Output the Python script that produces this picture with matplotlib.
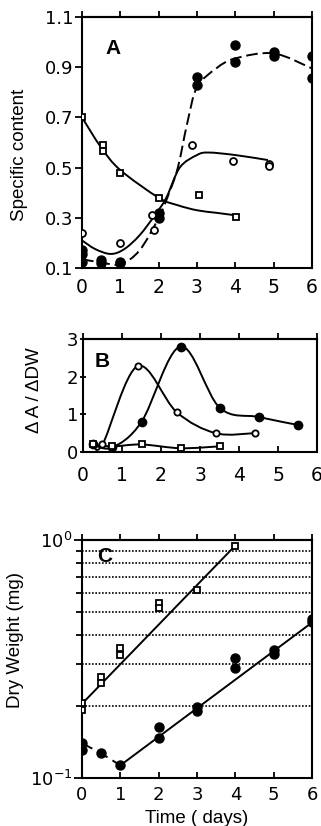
import numpy as np
import matplotlib
matplotlib.use("Agg")
import matplotlib.pyplot as plt
from matplotlib.path import Path
from matplotlib.patches import PathPatch
from matplotlib.ticker import FixedLocator, NullFormatter

plt.rcParams['font.family'] = ['Liberation Sans', 'DejaVu Sans']
plt.rcParams['mathtext.fontset'] = 'custom'
plt.rcParams['mathtext.rm'] = 'DejaVu Sans'
plt.rcParams['mathtext.it'] = 'DejaVu Sans'

TICK_FONT = 'DejaVu Sans'

# Panel A - specific content
a_fill_x = [0, 0, 0, 0.5, 0.5, 1, 1, 2, 2, 3, 3, 4, 4, 5, 5, 6, 6]
a_fill_y = [0.17, 0.155, 0.125, 0.13, 0.12, 0.125, 0.12, 0.32, 0.30, 0.86, 0.83, 0.99, 0.92, 0.96, 0.945, 0.945, 0.855]
a_open_x = [0, 1, 1.83, 1.88, 2.88, 3.95, 4.88, 4.88]
a_open_y = [0.24, 0.20, 0.31, 0.25, 0.59, 0.525, 0.515, 0.505]
a_sq_x = [0, 0.55, 0.55, 1, 2, 3.05, 4.03]
a_sq_y = [0.70, 0.59, 0.565, 0.48, 0.38, 0.39, 0.305]
# fitted trend curves
a_fill_fit_x = [0, 0.5, 1, 1.5, 2, 2.25, 2.5, 2.75, 3, 3.5, 4, 5, 6]
a_fill_fit_y = [0.135, 0.122, 0.115, 0.17, 0.30, 0.39, 0.50, 0.68, 0.82, 0.895, 0.935, 0.955, 0.895]
a_open_fit_x = [0, 0.35, 0.75, 1.1, 1.5, 1.9, 2.2, 2.55, 3, 3.3, 4, 4.85]
a_open_fit_y = [0.21, 0.175, 0.156, 0.175, 0.23, 0.31, 0.38, 0.50, 0.55, 0.56, 0.55, 0.53]
a_sq_fit_x = [0, 0.5, 1, 2, 2.5, 3, 3.5, 4]
a_sq_fit_y = [0.70, 0.58, 0.49, 0.38, 0.35, 0.33, 0.32, 0.31]

# Panel B - dA/dDW
b_fill_x = [0.25, 0.75, 1.5, 2.5, 3.5, 4.5, 5.5]
b_fill_y = [0.20, 0.12, 0.80, 2.80, 1.18, 0.93, 0.72]
b_open_x = [0.25, 0.5, 1.4, 2.4, 3.4, 4.4]
b_open_y = [0.22, 0.20, 2.28, 1.06, 0.50, 0.50]
b_sq_x = [0.25, 0.75, 1.5, 2.5, 3.5]
b_sq_y = [0.20, 0.15, 0.20, 0.10, 0.15]

# Panel C - dry weight
c_fill_x = [0, 0, 0.5, 1, 2, 2, 3, 3, 4, 4, 5, 5, 6, 6]
c_fill_y = [0.14, 0.131, 0.127, 0.113, 0.164, 0.147, 0.198, 0.191, 0.318, 0.291, 0.346, 0.331, 0.466, 0.454]
c_sq_x = [0, 0, 0.5, 0.5, 1, 1, 2, 2, 3, 4]
c_sq_y = [0.207, 0.194, 0.266, 0.25, 0.353, 0.33, 0.542, 0.52, 0.616, 0.944]
c_fill_fit_x = [0, 0.5, 1, 6]
c_fill_fit_y = [0.14, 0.127, 0.113, 0.45]
c_sq_fit_x = [0, 3.95]
c_sq_fit_y = [0.205, 0.93]


def smooth_path(xs, ys):
    """Catmull-Rom curve through the points, as a bezier path."""
    pts = np.column_stack([xs, ys]).astype(float)
    verts = [pts[0]]
    codes = [Path.MOVETO]
    for i in range(len(pts) - 1):
        p0 = pts[i - 1] if i > 0 else pts[i]
        p1 = pts[i]
        p2 = pts[i + 1]
        p3 = pts[i + 2] if i + 2 < len(pts) else pts[i + 1]
        verts += [p1 + (p2 - p0) / 6.0, p2 - (p3 - p1) / 6.0, p2]
        codes += [Path.CURVE4] * 3
    return Path(verts, codes)


def add_curve(ax, xs, ys, ls='-'):
    ax.add_patch(PathPatch(smooth_path(xs, ys), fill=False, lw=1.4,
                           color='black', linestyle=ls, zorder=2))


def markers(ax, x, y, kind, ms=None):
    if kind == 'fill':
        ax.plot(x, y, 'o', ms=ms or 6.5, mfc='black', mec='black', zorder=4)
    elif kind == 'open':
        ax.plot(x, y, 'o', ms=ms or 5, mfc='white', mec='black', mew=1.3, zorder=4)
    else:
        ax.plot(x, y, 's', ms=ms or 5, mfc='white', mec='black', mew=1.3, zorder=4)


def style_axes(ax, xpad, left_dir='out', xsize=13.5):
    for s in ax.spines.values():
        s.set_linewidth(1.5)
    ax.set_xlim(0, 6)
    ax.set_xticks(range(7))
    ax.tick_params(axis='x', direction='in', length=4, width=1.3,
                   labelsize=xsize, pad=xpad)
    ax.tick_params(axis='y', direction=left_dir, length=5, width=1.3,
                   labelsize=13, pad=1)
    for lab in ax.get_xticklabels() + ax.get_yticklabels():
        lab.set_fontfamily(TICK_FONT)
    top = ax.secondary_xaxis('top')
    top.set_xticks(range(7))
    top.tick_params(direction='out', length=4, width=1.3, labeltop=False)
    top.spines['top'].set_linewidth(1.5)


W, H = 321, 826
fig = plt.figure(figsize=(W / 100, H / 100), dpi=100)

# ---- A ----
axA = fig.add_axes([82 / W, 1 - 268 / H, 230 / W, 251 / H])
axA.set_ylim(0.1, 1.1)
axA.set_yticks([0.1, 0.3, 0.5, 0.7, 0.9, 1.1])
axA.set_yticklabels(['0.1', '0.3', '0.5', '0.7', '0.9', '1.1'])
style_axes(axA, xpad=7)
add_curve(axA, a_fill_fit_x, a_fill_fit_y, ls=(0, (6, 2.5)))
add_curve(axA, a_open_fit_x, a_open_fit_y)
add_curve(axA, a_sq_fit_x, a_sq_fit_y)
markers(axA, a_fill_x, a_fill_y, 'fill')
markers(axA, a_open_x, a_open_y, 'open')
markers(axA, a_sq_x, a_sq_y, 'sq')
axA.text(0.8, 0.975, 'A', fontsize=15, fontweight='bold', ha='center', va='center')
axA.set_ylabel('Specific content', fontsize=13.5)
axA.yaxis.set_label_coords(-0.235, 0.45)

# ---- B ----
axB = fig.add_axes([83 / W, 1 - 452 / H, 234 / W, 113 / H])
axB.set_ylim(0, 3)
axB.set_yticks([0, 1, 2, 3])
style_axes(axB, xpad=10, left_dir='inout')
add_curve(axB, b_fill_x, b_fill_y)
add_curve(axB, b_open_x, b_open_y)
add_curve(axB, b_sq_x, b_sq_y)
markers(axB, b_fill_x, b_fill_y, 'fill', ms=6)
markers(axB, b_open_x, b_open_y, 'open', ms=4.5)
markers(axB, b_sq_x, b_sq_y, 'sq', ms=4.5)
axB.text(0.5, 2.4, 'B', fontsize=15, fontweight='bold', ha='center', va='center')
axB.set_ylabel('\u0394 A / \u0394DW', fontsize=13.5)
axB.yaxis.set_label_coords(-0.17, 0.55)

# ---- C ----
axC = fig.add_axes([82 / W, 1 - 778 / H, 230 / W, 238 / H])
axC.set_yscale('log')
axC.set_ylim(0.1, 1.0)
axC.yaxis.set_major_locator(FixedLocator([0.1, 1.0]))
axC.set_yticklabels(['$10^{-1}$', '$10^{0}$'])
axC.yaxis.set_minor_locator(FixedLocator([0.2, 0.3, 0.4, 0.5, 0.6, 0.7, 0.8, 0.9]))
axC.yaxis.set_minor_formatter(NullFormatter())
style_axes(axC, xpad=6, xsize=13)
axC.tick_params(axis='y', which='major', length=6, labelsize=13)
axC.tick_params(axis='y', which='minor', direction='out', length=4, width=1.3)
axC.grid(True, axis='y', which='minor', color='black', linestyle=(0, (1, 1)), lw=1.2)
axC.plot(c_fill_fit_x[:3], c_fill_fit_y[:3], color='black', lw=1.4, ls=(0, (6, 3)), zorder=2)
axC.plot(c_fill_fit_x[2:], c_fill_fit_y[2:], color='black', lw=1.4, zorder=2)
axC.plot(c_sq_fit_x, c_sq_fit_y, color='black', lw=1.4, zorder=2)
markers(axC, c_fill_x, c_fill_y, 'fill')
markers(axC, c_sq_x, c_sq_y, 'sq')
axC.text(0.6, 0.85, 'C', fontsize=15, fontweight='bold', ha='center', va='center')
axC.set_ylabel('Dry Weight (mg)', fontsize=13.5)
axC.yaxis.set_label_coords(-0.25, 0.58)
fig.text(197 / W, 3 / H, 'Time ( days)', fontsize=13.5, ha='center', va='baseline')

fig.savefig('out.png', dpi=100)
